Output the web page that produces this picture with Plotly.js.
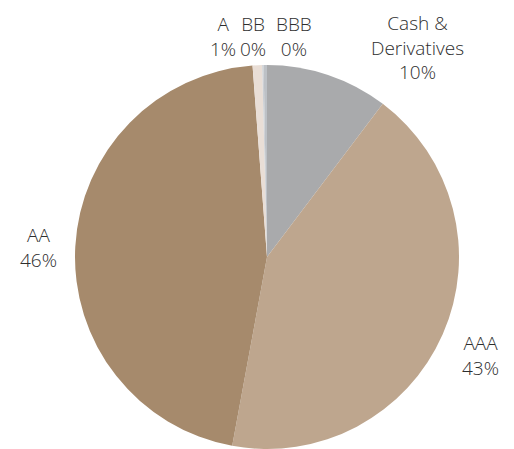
<!DOCTYPE html>
<html>
<head>
<meta charset="utf-8">
<script src="https://cdn.plot.ly/plotly-3.0.1.min.js"></script>
<style>html,body{margin:0;padding:0;background:#fff;}#chart{width:514px;height:449px;}</style>
</head>
<body>
<div id="chart"></div>
<script>
// Data
var categories = ["Cash &<br>Derivatives", "AAA", "AA", "A", "BB", "BBB"];
var values = [10.3, 42.6, 45.9, 0.8, 0.12, 0.28];
var colors = ["#A9AAAC", "#BEA68E", "#A68A6C", "#E9DED6", "#CBCFD4", "#BDC1C6"];

// Label positions (pixels in the 514x449 frame)
var labelPos = [[417, 47], [480, 355], [38, 248], [223, 37], [253, 37], [294, 37]];

var total = values.reduce(function(a, b){ return a + b; }, 0);
var W = 514, H = 449;
var annotations = categories.map(function(c, i){
  return {
    text: c + "<br>" + Math.round(values[i] / total * 100) + "%",
    x: labelPos[i][0] / W, y: 1 - labelPos[i][1] / H,
    xref: "paper", yref: "paper", xanchor: "center", yanchor: "middle",
    showarrow: false, align: "center",
    font: {family: "Open Sans, sans-serif", size: 19, color: "#2E2E2E", weight: 300}
  };
});

var trace = {
  type: "pie",
  labels: categories,
  values: values,
  sort: false,
  direction: "clockwise",
  rotation: 0,
  textinfo: "none",
  hoverinfo: "label+percent",
  marker: {colors: colors, line: {color: "#FFFFFF", width: 0}},
  domain: {x: [75 / W, 459 / W], y: [0, (449 - 65) / H]},
  showlegend: false
};

var layout = {
  width: W, height: H,
  margin: {l: 0, r: 0, t: 0, b: 0},
  paper_bgcolor: "#FFFFFF",
  showlegend: false,
  annotations: annotations
};

Plotly.newPlot("chart", [trace], layout, {displayModeBar: false, staticPlot: true});
</script>
</body>
</html>
